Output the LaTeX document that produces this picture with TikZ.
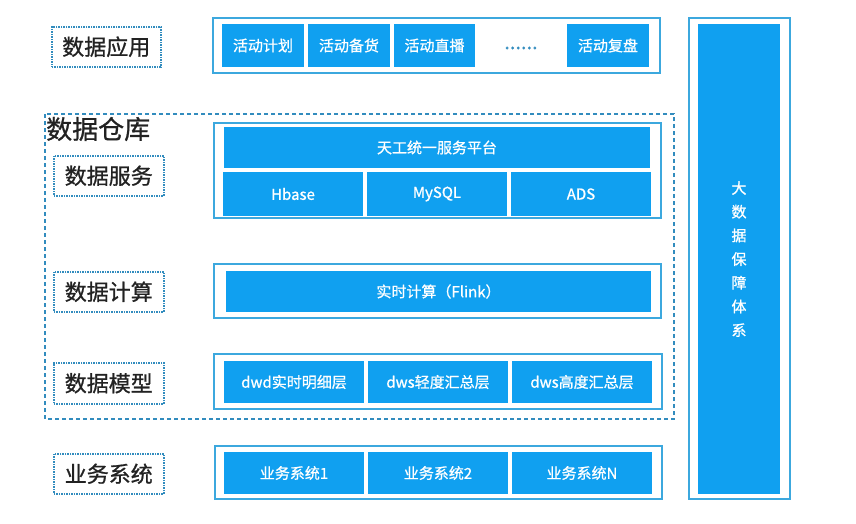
\documentclass[tikz,border=0pt]{standalone}
\usepackage{fontspec}
\setmainfont{Noto Sans CJK SC}
\newfontfamily\medfont{Noto Sans CJK SC}[FakeBold=0.9]
\usetikzlibrary{positioning}
\definecolor{boxblue}{RGB}{16,160,240}
\definecolor{lineblue}{RGB}{60,168,222}
\definecolor{dotblue}{RGB}{50,140,190}
\definecolor{tagtext}{RGB}{34,34,34}

\tikzset{
 frame/.style={draw=lineblue,line width=1.5pt,inner sep=0,outer sep=0,anchor=north west},
 cell/.style={fill=boxblue,text=white,inner sep=0,outer sep=0,font=\medfont\fontsize{15}{18}\selectfont,minimum height=42pt},
 tag/.style={draw=dotblue,densely dotted,line width=1.5pt,minimum width=110pt,minimum height=40pt,inner sep=0,anchor=north west,text=tagtext,font=\medfont\fontsize{22}{26}\selectfont}
}

\begin{document}
\begin{tikzpicture}[x=1pt,y=-1pt]
 \useasboundingbox (0,0) rectangle (856,523);

 % warehouse area
 \draw[draw=dotblue,line width=1.5pt,dash pattern=on 4pt off 3pt] (45,114) rectangle (674,419);
 \node[anchor=west,inner sep=0,text=tagtext,font=\medfont\fontsize{26}{30}\selectfont] (warehouse) at (46,129) {数据仓库};

 % frames
 \node[frame,minimum width=447pt,minimum height=55pt] (appframe) at (213,18) {};
 \node[frame,minimum width=447pt,minimum height=95pt] (serviceframe) at (214,123) {};
 \node[frame,minimum width=447pt,minimum height=54pt] (computeframe) at (214,264) {};
 \node[frame,minimum width=448pt,minimum height=55pt] (modelframe) at (214,354) {};
 \node[frame,minimum width=447pt,minimum height=53pt] (bizframe) at (215,446) {};
 \node[frame,minimum width=101pt,minimum height=481pt] (guardframe) at (689,18) {};

 % tags
 \node[tag,minimum width=109pt] (apptag) at (51,26) {数据应用};
 \node[tag] (servicetag) at (53,155) {数据服务};
 \node[tag] (computetag) at (53,271) {数据计算};
 \node[tag,minimum height=41pt] (modeltag) at (53,362) {数据模型};
 \node[tag] (biztag) at (53,453) {业务系统};

 % application row
 \node[cell,anchor=north west,minimum width=82pt,minimum height=43pt] (plan) at (222,24) {活动计划};
 \node[cell,minimum width=82pt,minimum height=43pt] (stock) [right=4pt of plan] {活动备货};
 \node[cell,minimum width=81pt,minimum height=43pt] (live) [right=4pt of stock] {活动直播};
 \node[cell,anchor=north west,minimum width=82pt,minimum height=43pt] (review) at (567,24) {活动复盘};
 \node[inner sep=0,text=dotblue,font=\medfont\fontsize{20}{20}\selectfont] (more) at (521,48) {......};

 % service rows
 \node[cell,anchor=north west,minimum width=426pt,minimum height=41pt] (platform) at (224,127) {天工统一服务平台};
 \node[cell,anchor=north west,minimum width=140pt,minimum height=44pt] (hbase) at (223,172) {Hbase};
 \node[cell,minimum width=140pt,minimum height=44pt] (mysql) [right=4pt of hbase] {MySQL};
 \node[cell,minimum width=140pt,minimum height=44pt] (ads) [right=4pt of mysql] {ADS};

 % compute row
 \node[cell,anchor=north west,minimum width=425pt,minimum height=41pt] (flink) at (226,271) {实时计算（Flink）};

 % model row
 \node[cell,anchor=north west,minimum width=140pt] (dwd) at (224,361) {dwd实时明细层};
 \node[cell,minimum width=140pt] (dwslight) [right=4pt of dwd] {dws轻度汇总层};
 \node[cell,minimum width=140pt] (dwsheavy) [right=4pt of dwslight] {dws高度汇总层};

 % business row
 \node[cell,anchor=north west,minimum width=140pt] (sys1) at (224,452) {业务系统1};
 \node[cell,minimum width=140pt] (sys2) [right=4pt of sys1] {业务系统2};
 \node[cell,minimum width=140pt] (sysn) [right=4pt of sys2] {业务系统N};

 % guarantee column
 \node[cell,anchor=north west,minimum width=82pt,minimum height=470pt] (guard) at (698,24) {};
 \node[inner sep=0,text=white,align=center,font=\medfont\fontsize{15}{23.7}\selectfont] (guardtext) at (739,259) {大\\数\\据\\保\\障\\体\\系};
\end{tikzpicture}
\end{document}
